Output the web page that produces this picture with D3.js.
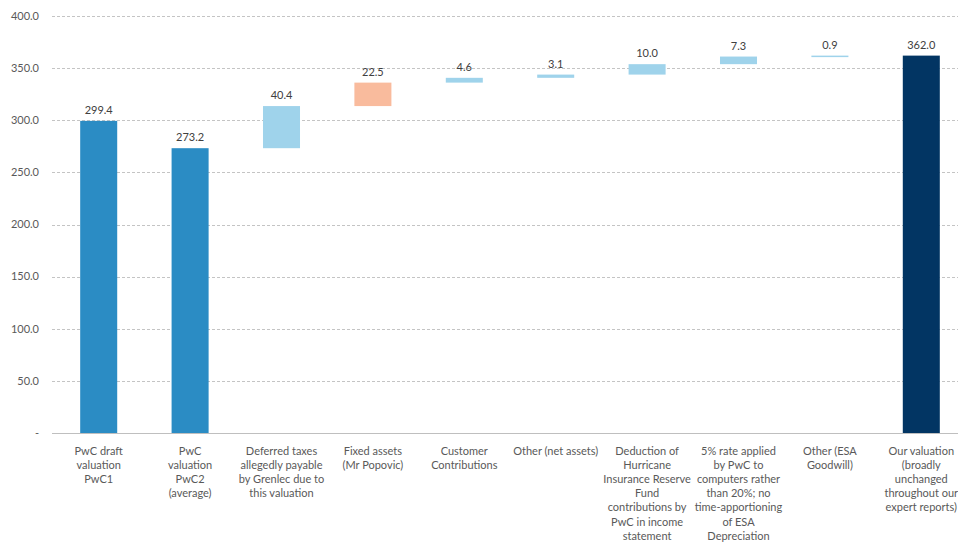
<!DOCTYPE html>
<html>
<head>
<meta charset="utf-8">
<script src="https://cdn.jsdelivr.net/npm/d3@7"></script>
<style>
  body { margin: 0; background: #fff; }
  svg { display: block; font-family: Lato, "Open Sans", sans-serif; }
</style>
</head>
<body>
<svg id="chart" width="958" height="544"></svg>
<script>
// chart data
var categories = [
  "PwC draft\nvaluation\nPwC1",
  "PwC\nvaluation\nPwC2\n(average)",
  "Deferred taxes\nallegedly payable\nby Grenlec due to\nthis valuation",
  "Fixed assets\n(Mr Popovic)",
  "Customer\nContributions",
  "Other (net assets)",
  "Deduction of\nHurricane\nInsurance Reserve\nFund\ncontributions by\nPwC in income\nstatement",
  "5% rate applied\nby PwC to\ncomputers rather\nthan 20%; no\ntime-apportioning\nof ESA\nDepreciation",
  "Other (ESA\nGoodwill)",
  "Our valuation\n(broadly\nunchanged\nthroughout our\nexpert reports)"
];
var values = [299.4, 273.2, 40.4, 22.5, 4.6, 3.1, 10.0, 7.3, 0.9, 362.0];
// "total" bars start at zero, "step" bars float on the running total
var barTypes = ["total", "total", "step", "step", "step", "step", "step", "step", "step", "total"];
var barGroups = ["pwc", "pwc", "up", "fixed", "up", "up", "up", "up", "up", "ours"];
var yTicks = [0, 50, 100, 150, 200, 250, 300, 350, 400];

var colors = {pwc: "#2b8cc4", up: "#9fd3eb", fixed: "#f9bb9d", ours: "#023563"};

// build floating bars
var running = 0;
var bars = values.map(function(v, i) {
  var b;
  if (barTypes[i] === "total") { b = {lo: 0, hi: v}; running = v; }
  else { b = {lo: running, hi: running + v}; running += v; }
  b.cat = categories[i]; b.value = v; b.group = barGroups[i];
  return b;
});

var svg = d3.select("#chart");
var x = d3.scaleBand().domain(categories).range([53, 967]).paddingInner(0.595).paddingOuter(0.2975);
var y = d3.scaleLinear().domain([0, 400]).range([433, 16]);

// gridlines
svg.append("g").selectAll("line")
  .data(yTicks.filter(function(t){ return t > 0; }))
  .enter().append("line")
  .attr("x1", 52).attr("x2", 958)
  .attr("y1", function(d){ return Math.round(y(d)) + 0.5; })
  .attr("y2", function(d){ return Math.round(y(d)) + 0.5; })
  .style("stroke", "#c4c4c4")
  .style("stroke-dasharray", "3,2");

// y labels
svg.append("g").selectAll("text")
  .data(yTicks)
  .enter().append("text")
  .attr("x", 39)
  .attr("y", function(d){ return y(d); })
  .attr("dy", "0.35em")
  .attr("text-anchor", "end")
  .style("font-size", "11px")
  .style("fill", "#595959")
  .text(function(d){ return d === 0 ? "-" : d3.format(".1f")(d); });

// bars
svg.append("g").selectAll("rect")
  .data(bars)
  .enter().append("rect")
  .attr("x", function(d){ return x(d.cat); })
  .attr("width", x.bandwidth())
  .attr("y", function(d){ return y(d.hi); })
  .attr("height", function(d){ return Math.max(1.5, y(d.lo) - y(d.hi)); })
  .style("fill", function(d){ return colors[d.group]; });

// value labels
svg.append("g").selectAll("text")
  .data(bars)
  .enter().append("text")
  .attr("x", function(d){ return x(d.cat) + x.bandwidth() / 2; })
  .attr("y", function(d){ return y(d.hi) - 7; })
  .attr("text-anchor", "middle")
  .style("font-size", "11px")
  .style("fill", "#404040")
  .text(function(d){ return d3.format(".1f")(d.value); });

// baseline
svg.append("line")
  .attr("x1", 52).attr("x2", 958)
  .attr("y1", y(0) + 0.5).attr("y2", y(0) + 0.5)
  .style("stroke", "#bfbfbf");

// category labels
var catText = svg.append("g").selectAll("text")
  .data(categories)
  .enter().append("text")
  .attr("x", function(d){ return x(d) + x.bandwidth() / 2; })
  .attr("y", 455)
  .attr("text-anchor", "middle")
  .style("font-size", "11px")
  .style("fill", "#595959");

catText.selectAll("tspan")
  .data(function(d){ return d.split("\n"); })
  .enter().append("tspan")
  .attr("x", function(){ var p = this.parentNode; return p.getAttribute("x"); })
  .attr("dy", function(d, i){ return i === 0 ? 0 : 14.1; })
  .text(function(d){ return d; });
</script>
</body>
</html>
